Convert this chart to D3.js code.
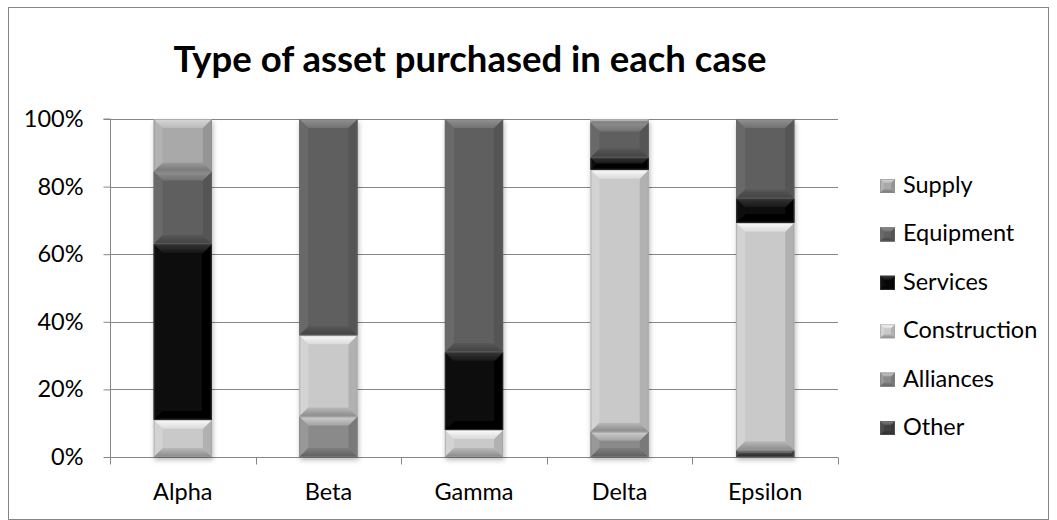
<!DOCTYPE html>
<html>
<head>
<meta charset="utf-8">
<script src="https://cdn.jsdelivr.net/npm/d3@7"></script>
<style>
  html, body { margin: 0; padding: 0; background: #fff; }
  svg text { font-family: Lato, "Open Sans", sans-serif; fill: #000; }
</style>
</head>
<body>
<svg id="chart" width="1057" height="520"></svg>
<script>
// Cases along the x axis
const categories = ["Alpha", "Beta", "Gamma", "Delta", "Epsilon"];

// Asset types, stacked bottom to top
const seriesNames = ["Other", "Alliances", "Construction", "Services", "Equipment", "Supply"];

// Share of each asset type per case (percent)
const other        = [0,    0,    0,    0,    2];
const alliances    = [0,    12,   0,    7.5,  0];
const construction = [11,   24,   8,    77.5, 67.3];
const services     = [52,   0,    23,   3.6,  7.2];
const equipment    = [21.5, 64,   69,   10.4, 23.5];
const supply       = [15.5, 0,    0,    1,    0];

const yTicks = [0, 0.2, 0.4, 0.6, 0.8, 1];
const title = "Type of asset purchased in each case";

// Fill colours for each asset type
const seriesColors = {
  Other: "#404040",
  Alliances: "#8a8a8a",
  Construction: "#c9c9c9",
  Services: "#070707",
  Equipment: "#5f5f5f",
  Supply: "#a9a9a9"
};
const highlight = {
  Other: 0.35, Alliances: 0.6, Construction: 0.92, Services: 0.18, Equipment: 0.32, Supply: 0.55
};

const valuesBySeries = { Other: other, Alliances: alliances, Construction: construction,
  Services: services, Equipment: equipment, Supply: supply };

const table = categories.map((c, i) => {
  const row = { category: c };
  seriesNames.forEach(s => row[s] = valuesBySeries[s][i]);
  return row;
});

const svg = d3.select("#chart");
const margin = { left: 110, right: 838, top: 119, bottom: 457 };
const labelSize = "23.5px";

const x = d3.scaleBand().domain(categories).range([margin.left, margin.right]).paddingInner(0.6).paddingOuter(0.3);
const xOuter = d3.scaleBand().domain(categories).range([margin.left, margin.right]);
const y = d3.scaleLinear().domain([0, 1]).range([margin.bottom, margin.top]);

const stack = d3.stack().keys(seriesNames).offset(d3.stackOffsetExpand);
const layers = stack(table);

// chart frame
svg.append("rect")
  .attr("x", 8.5).attr("y", 7.5).attr("width", 1040).attr("height", 512)
  .attr("fill", "#fff").attr("stroke", "#868686").attr("stroke-width", 1);

// title
svg.append("text")
  .attr("x", 470).attr("y", 72)
  .attr("text-anchor", "middle")
  .style("font-size", "36.5px").style("font-weight", "bold")
  .text(title);

// gridlines
svg.append("g").selectAll("line").data(yTicks.slice(1)).join("line")
  .attr("x1", margin.left).attr("x2", margin.right)
  .attr("y1", d => Math.round(y(d)) + 0.5).attr("y2", d => Math.round(y(d)) + 0.5)
  .attr("stroke", "#868686").attr("stroke-width", 1);

// y axis
const yAxis = svg.append("g").attr("transform", `translate(${margin.left + 0.5},0)`)
  .call(d3.axisLeft(y).tickValues(yTicks).tickFormat(d3.format(".0%")).tickSize(7).tickPadding(20));
yAxis.select(".domain").attr("stroke", "#868686").attr("d", `M-7,${margin.top}H0V${margin.bottom + 7}`);
yAxis.selectAll(".tick line").attr("stroke", "#868686");
yAxis.selectAll(".tick text").style("font-size", labelSize).attr("fill", "#000");

// x axis
const xAxis = svg.append("g").attr("transform", `translate(0,${Math.round(margin.bottom) + 0.5})`);
xAxis.append("line").attr("x1", margin.left).attr("x2", margin.right).attr("stroke", "#868686");
const boundaries = categories.map(c => xOuter(c)).concat([margin.right]);
xAxis.selectAll("line.tick").data(boundaries).join("line").attr("class", "tick")
  .attr("x1", d => Math.round(d) + 0.5).attr("x2", d => Math.round(d) + 0.5)
  .attr("y1", 0).attr("y2", 7).attr("stroke", "#868686");
xAxis.selectAll("text").data(categories).join("text")
  .attr("x", d => x(d) + x.bandwidth() / 2).attr("y", 42)
  .attr("text-anchor", "middle").style("font-size", labelSize)
  .text(d => d);

// shadow and gradients
const defs = svg.append("defs");
const shadow = defs.append("filter").attr("id", "shadow").attr("x", "-20%").attr("y", "-10%").attr("width", "140%").attr("height", "120%");
shadow.append("feDropShadow").attr("dx", 1).attr("dy", 3).attr("stdDeviation", 2.5)
  .attr("flood-color", "#000").attr("flood-opacity", 0.28);

seriesNames.forEach(s => {
  const base = d3.color(seriesColors[s]);
  const hi = d3.interpolateRgb(base, "#fff")(highlight[s]);
  const g = defs.append("linearGradient").attr("id", "top-" + s).attr("x1", 0).attr("x2", 0).attr("y1", 0).attr("y2", 1);
  g.append("stop").attr("offset", "0%").attr("stop-color", hi);
  g.append("stop").attr("offset", "100%").attr("stop-color", d3.interpolateRgb(base, "#fff")(highlight[s] * 0.35));
  const b = defs.append("linearGradient").attr("id", "bot-" + s).attr("x1", 0).attr("x2", 0).attr("y1", 0).attr("y2", 1);
  b.append("stop").attr("offset", "0%").attr("stop-color", d3.interpolateRgb(base, "#000")(0.08));
  b.append("stop").attr("offset", "100%").attr("stop-color", d3.interpolateRgb(base, "#000")(0.32));
});

// draws a bevelled block
function bevelBlock(g, s, x0, y0, w, h, depth) {
  const b = Math.max(0, Math.min(depth, h / 2, w / 2));
  const base = seriesColors[s];
  g.append("rect").attr("x", x0).attr("y", y0).attr("width", w).attr("height", h).attr("fill", base);
  if (b <= 0) return;
  const pts = a => a.map(p => p.join(",")).join(" ");
  // left and right faces
  g.append("polygon").attr("points", pts([[x0, y0], [x0 + b, y0 + b], [x0 + b, y0 + h - b], [x0, y0 + h]]))
    .attr("fill", d3.interpolateRgb(base, "#fff")(highlight[s] * 0.2));
  g.append("polygon").attr("points", pts([[x0 + w, y0], [x0 + w - b, y0 + b], [x0 + w - b, y0 + h - b], [x0 + w, y0 + h]]))
    .attr("fill", d3.interpolateRgb(base, "#000")(0.12));
  // top and bottom faces
  g.append("polygon").attr("points", pts([[x0, y0], [x0 + w, y0], [x0 + w - b, y0 + b], [x0 + b, y0 + b]]))
    .attr("fill", `url(#top-${s})`);
  g.append("polygon").attr("points", pts([[x0, y0 + h], [x0 + w, y0 + h], [x0 + w - b, y0 + h - b], [x0 + b, y0 + h - b]]))
    .attr("fill", `url(#bot-${s})`);
  // thin edges
  g.append("rect").attr("x", x0 + 0.5).attr("y", y0 + 0.5).attr("width", Math.max(0, w - 1)).attr("height", Math.max(0, h - 1))
    .attr("fill", "none").attr("stroke", d3.interpolateRgb(base, "#777")(0.5)).attr("stroke-width", 1).attr("stroke-opacity", 0.6);
}

// bars
const bars = svg.append("g").attr("filter", "url(#shadow)");
layers.forEach(layer => {
  const s = layer.key;
  layer.forEach(d => {
    const top = y(d[1]), bot = y(d[0]);
    const h = bot - top;
    if (h <= 0.01) return;
    const g = bars.append("g");
    bevelBlock(g, s, x(d.data.category), top, x.bandwidth(), h, 9);
  });
});

// legend, top entry first
const legendOrder = seriesNames.slice().reverse();
const legend = svg.append("g");
legendOrder.forEach((s, i) => {
  const cy = 193 + i * 48.4;
  const g = legend.append("g");
  bevelBlock(g, s, 880, cy - 14, 15, 14, 4);
  legend.append("text").attr("x", 903).attr("y", cy).style("font-size", labelSize).text(s);
});
</script>
</body>
</html>
